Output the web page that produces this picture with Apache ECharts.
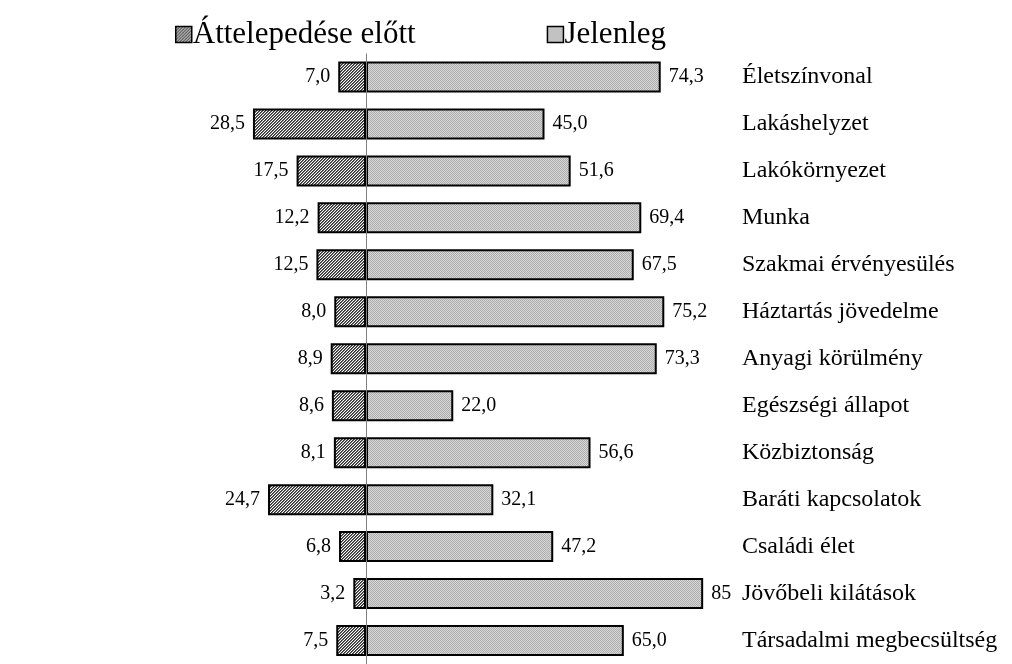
<!DOCTYPE html>
<html>
<head>
<meta charset="utf-8">
<script src="https://cdn.jsdelivr.net/npm/echarts@6/dist/echarts.min.js"></script>
<style>
  html, body { margin: 0; padding: 0; background: #fff; }
  #chart { width: 1012px; height: 664px; }
</style>
</head>
<body>
<div id="chart"></div>
<script>
// Categories, top to bottom
const categories = [
  'Életszínvonal', 'Lakáshelyzet', 'Lakókörnyezet', 'Munka',
  'Szakmai érvényesülés', 'Háztartás jövedelme', 'Anyagi körülmény',
  'Egészségi állapot', 'Közbiztonság', 'Baráti kapcsolatok',
  'Családi élet', 'Jövőbeli kilátások', 'Társadalmi megbecsültség'
];
// Share before resettling (drawn to the left of zero)
const elotte = [7.0, 28.5, 17.5, 12.2, 12.5, 8.0, 8.9, 8.6, 8.1, 24.7, 6.8, 3.2, 7.5];
// Current share (drawn to the right of zero)
const jelenleg = [74.3, 45.0, 51.6, 69.4, 67.5, 75.2, 73.3, 22.0, 56.6, 32.1, 47.2, 85, 65.0];
// Value labels as printed for the current series
const jelenlegLabels = ['74,3', '45,0', '51,6', '69,4', '67,5', '75,2', '73,3', '22,0', '56,6', '32,1', '47,2', '85', '65,0'];
const seriesNames = ['Áttelepedése előtt', 'Jelenleg'];

// Small tiled canvases used as bar fills
function makePattern(draw, size) {
  const c = document.createElement('canvas');
  c.width = size; c.height = size;
  const ctx = c.getContext('2d');
  draw(ctx, size);
  return { image: c, repeat: 'repeat' };
}
// fine dark diagonal hatch
const hatchDark = makePattern((ctx, s) => {
  const shades = ['#2e2e2e', '#6e6e6e', '#ffffff'];
  for (let y = 0; y < s; y++) {
    for (let x = 0; x < s; x++) {
      ctx.fillStyle = shades[(x + y) % 3];
      ctx.fillRect(x, y, 1, 1);
    }
  }
}, 6);
// light grey stipple
const hatchLight = makePattern((ctx, s) => {
  for (let y = 0; y < s; y++) {
    for (let x = 0; x < s; x++) {
      ctx.fillStyle = ((x + y) % 2 === 0) ? '#acacac' : '#d8d8d8';
      ctx.fillRect(x, y, 1, 1);
    }
  }
}, 4);

const fmt = v => Math.abs(v).toFixed(1).replace('.', ',');
const serif = 'Liberation Serif, Times New Roman, serif';

const chart = echarts.init(document.getElementById('chart'), null, { renderer: 'canvas' });
chart.setOption({
  animation: false,
  backgroundColor: '#ffffff',
  textStyle: { fontFamily: serif, color: '#000' },
  legend: {
    left: 170,
    top: 14,
    itemWidth: 16,
    itemHeight: 16,
    itemGap: 131,
    icon: 'rect',
    itemStyle: { borderColor: '#000', borderWidth: 1.5 },
    textStyle: { fontFamily: serif, fontSize: 31, color: '#000', padding: [0, 0, 0, -4] },
    data: seriesNames
  },
  grid: { left: 247, right: 289, top: 53.5, bottom: -2, containLabel: false },
  xAxis: {
    type: 'value',
    min: -30,
    max: 90,
    show: false
  },
  yAxis: {
    type: 'category',
    data: categories,
    inverse: true,
    position: 'right',
    axisLine: { show: false },
    axisTick: { show: false },
    splitLine: { show: false },
    axisLabel: {
      margin: 19,
      fontFamily: serif,
      fontSize: 24,
      color: '#000',
      align: 'left'
    }
  },
  series: [
    {
      name: seriesNames[0],
      type: 'bar',
      data: elotte.map(v => -v),
      barWidth: 31,
      barGap: '-100%',
      itemStyle: { color: hatchDark, borderColor: '#000', borderWidth: 2 },
      label: {
        show: true,
        position: 'left',
        distance: 8,
        fontFamily: serif,
        fontSize: 20,
        color: '#000',
        formatter: p => fmt(p.value)
      },
      z: 2
    },
    {
      name: seriesNames[1],
      type: 'bar',
      data: jelenleg,
      barWidth: 31,
      itemStyle: { color: hatchLight, borderColor: '#000', borderWidth: 2 },
      label: {
        show: true,
        position: 'right',
        distance: 8,
        fontFamily: serif,
        fontSize: 20,
        color: '#000',
        formatter: p => jelenlegLabels[p.dataIndex]
      },
      markLine: {
        silent: true,
        symbol: 'none',
        label: { show: false },
        lineStyle: { color: '#808080', width: 1, type: 'solid' },
        data: [{ xAxis: 0 }],
        z: 5
      },
      z: 2
    }
  ]
});
</script>
</body>
</html>
